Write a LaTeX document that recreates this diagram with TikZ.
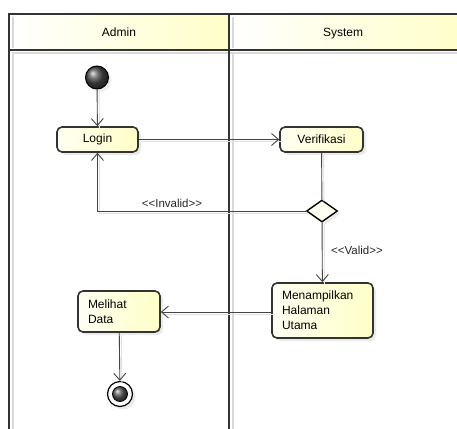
\documentclass[tikz,border=0pt]{standalone}
\usepackage{fontspec}
\setmainfont{Liberation Sans}
\usetikzlibrary{shapes.geometric,arrows.meta,shadows}
\definecolor{ylw}{HTML}{FFFFC8}
\definecolor{ylwlight}{HTML}{FFFFF2}
\definecolor{edge}{HTML}{333333}
\definecolor{conn}{HTML}{444444}
\begin{document}
\begin{tikzpicture}[x=1pt,y=-1pt,
  act/.style={draw=edge, line width=1.6pt, rounded corners=5pt,
    left color=ylwlight, right color=ylw,
    drop shadow={shadow xshift=3pt, shadow yshift=-3pt, fill=black!15},
    font=\fontsize{12}{15}\selectfont, inner sep=0pt},
  flow/.style={draw=conn, line width=0.9pt},
  arr/.style={-{Straight Barb[length=7pt,width=12pt,line width=0.9pt]}},
  lbl/.style={font=\fontsize{11.5}{13}\selectfont, text=black!85, inner sep=1pt},
  lane/.style={draw=edge, line width=1.8pt},
  laneshadow/.style={draw=black!15, line width=1.5pt},
  hdr/.style={font=\fontsize{12}{14}\selectfont, anchor=base}
]
\useasboundingbox (0,0) rectangle (457,428);
\clip (0,0) rectangle (457,428);
\fill[white] (0,0) rectangle (457,428);
% headers
\shade[left color=white, right color=ylw] (9,14) rectangle (229,50);
\shade[left color=white, right color=ylw] (229,14) rectangle (470,50);
% lane shadows
\draw[laneshadow] (13,52) -- (13,440);
\draw[laneshadow] (233,52) -- (233,440);
\draw[laneshadow] (13,53) -- (470,53);
\draw[laneshadow] (13,17) -- (13,48);
\draw[laneshadow] (233,17) -- (233,48);
% lane borders
\draw[lane] (9,440) -- (9,14) -- (470,14);
\draw[lane] (9,50) -- (470,50);
\draw[lane] (229,14) -- (229,440);
\node[hdr] (hA) at (119,36.5) {Admin};
\node[hdr] (hS) at (343,36.5) {System};
% nodes
\node[circle, minimum size=23pt, inner sep=0pt, draw=black, line width=1pt,
  shading=ball, ball color=black!70,
  drop shadow={shadow xshift=3pt, shadow yshift=-3pt, fill=black!12}] (start) at (97,77.5) {};
\node[act, minimum width=81pt, minimum height=25pt] (login) at (97.5,139.5) {Login};
\node[act, minimum width=83pt, minimum height=25pt] (verif) at (321.5,139.5) {Verifikasi};
\node[diamond, draw=black, line width=1.4pt, fill=ylwlight, minimum width=31pt, minimum height=22pt, inner sep=0pt, aspect=1.4,
  drop shadow={shadow xshift=3pt, shadow yshift=-3pt, fill=black!15}] (dec) at (322,211) {};
\node[act, minimum width=101pt, minimum height=55pt, text width=81pt, align=left] (menam) at (322.5,310.5) {Menampilkan\\Halaman\\Utama};
\node[act, minimum width=82pt, minimum height=41pt, text width=62pt, align=left] (melihat) at (119,311.5) {Melihat\\Data};
\node[circle, minimum size=25pt, inner sep=0pt, draw=black, line width=1.2pt, fill=white,
  drop shadow={shadow xshift=3pt, shadow yshift=-3pt, fill=black!15}] (end) at (120,394) {};
\node[circle, minimum size=15pt, inner sep=0pt, draw=black, line width=0.8pt,
  shading=ball, ball color=black!65] (endin) at (end.center) {};
% connector shadows
\begin{scope}[transform canvas={shift={(2pt,-2pt)}}]
\draw[draw=black!12, line width=0.9pt] (start) -- (login);
\draw[draw=black!12, line width=0.9pt] (login) -- (verif);
\draw[draw=black!12, line width=0.9pt] (verif) -- (dec);
\draw[draw=black!12, line width=0.9pt] (dec.west) -| (login.south);
\draw[draw=black!12, line width=0.9pt] (dec) -- (menam);
\draw[draw=black!12, line width=0.9pt] (menam.west |- 0,312) -- (melihat.east |- 0,312);
\draw[draw=black!12, line width=0.9pt] (melihat) -- (end);
\end{scope}
% connectors
\draw[flow, arr] (start) -- (login);
\draw[flow, arr] (login) -- (verif);
\draw[flow] (verif) -- (dec);
\draw[flow, arr] (dec.west) -| (login.south);
\node[lbl] (linv) at (172,203) {<{}<Invalid>{}>};
\draw[flow, arr] (dec) -- (menam);
\node[lbl] (lval) at (357,250) {<{}<Valid>{}>};
\draw[flow, arr] (menam.west |- 0,312) -- (melihat.east |- 0,312);
\draw[flow, arr] (melihat) -- (end);
\end{tikzpicture}
\end{document}
